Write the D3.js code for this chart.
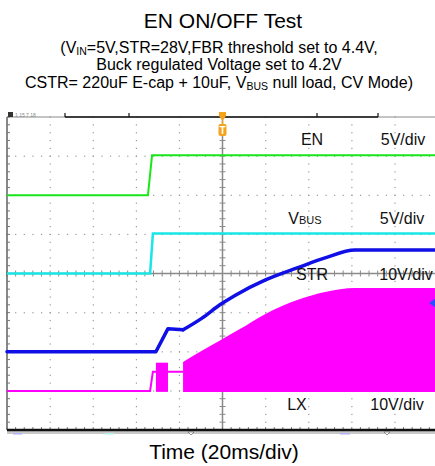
<!DOCTYPE html>
<html><head><meta charset="utf-8">
<script src="https://cdn.jsdelivr.net/npm/d3@7"></script>
<style>
html,body{margin:0;padding:0;background:#fff;}
svg{display:block;font-family:"Liberation Sans",Arial,sans-serif;}
</style></head>
<body><svg id="c" width="435" height="466"></svg>
<script>
// ---- data (time in ms, 20 ms/div, trigger at 0; voltages in V) ----
const titleText = "EN ON/OFF Test";
const xLabel = "Time (20ms/div)";
const channels = ["EN", "VBUS", "STR", "LX"];
const voltsPerDiv = [5, 5, 10, 10];
const offsetDiv = [2, 0, -2, -3];
const channelColors = ["#19e619", "#19e6e6", "#0f0fe6", "#ff00ff"];

const enTime = [-100, -34.6, -32.7, 100];
const enVolt = [0, 0, 5.1, 5.1];
const vbusTime = [-100, -33.6, -32.3, 100];
const vbusVolt = [0, 0, 5.1, 5.1];
const strStepTime = [-100, -30.9, -25.3, -18.3];
const strStepVolt = [0, 0, 5.9, 5.6];
const strRampTime = [-18.3, -9.5, -1.2, 5.8, 19.7, 35.0, 47.6, 61.5, 100];
const strRampVolt = [5.6, 8.6, 12.0, 14.4, 18.3, 21.5, 24.0, 26.0, 26.0];
const lxLineTime = [-100, -33.6, -32.3, -18.3];
const lxLineVolt = [0, 0, 4.9, 4.9];
const lxBlockTime = [-30.9, -25.3];
const lxBlockVolt = [7.2, 7.2];
const lxEnvTime = [-18.3, -10.4, -0.2, 8.1, 19.7, 35.0, 47.6, 61.5, 100];
const lxEnvVolt = [7.4, 10.0, 13.2, 15.8, 19.6, 23.3, 25.3, 26.3, 26.3];

// ---- layout ----
const svg = d3.select("#c");
const x = d3.scaleLinear().domain([-100, 100]).range([7, 438]);
const y = d3.scaleLinear().domain([-4, 4]).range([430, 117]);
const chY = (ci, v) => y(offsetDiv[ci] + v / voltsPerDiv[ci]);

// titles
svg.append("text").attr("x", 223).attr("y", 28).attr("text-anchor", "middle")
  .attr("font-size", 21).text(titleText);
const sub = [
  [["(V",0],["IN",1],["=5V,STR=28V,FBR threshold set to 4.4V,",2]],
  [["Buck regulated Voltage set to 4.2V",0]],
  [["CSTR= 220uF E-cap + 10uF, V",0],["BUS",1],[" null load, CV Mode)",2]]
];
const subY = [53, 70, 88];
sub.forEach((parts, i) => {
  const t = svg.append("text").attr("x", 219).attr("y", subY[i]).attr("text-anchor", "middle")
    .attr("font-size", 16);
  parts.forEach(([s, k]) => {
    const ts = t.append("tspan").text(s);
    if (k === 1) ts.attr("font-size", 10.5).attr("dy", 2);
    if (k === 2) ts.attr("dy", -2);
  });
});

// ---- graticule ----
const g = svg.append("g");
const majX = d3.range(-100, 101, 20);
const majY = d3.range(-4, 5, 1);
const minX = d3.range(-100, 100.01, 4);
const minY = d3.range(-4, 4.01, 0.2);
majY.forEach(dv => {
  if (dv === 0 || dv === 4 || dv === -4) return;
  minX.forEach(t => g.append("rect").attr("x", x(t) - 0.5).attr("y", y(dv) - 0.5)
    .attr("width", 1.2).attr("height", 1.2).attr("fill", "#9a9a9a"));
});
majX.forEach(t => {
  if (t === 0 || t === -100) return;
  minY.forEach(dv => g.append("rect").attr("x", x(t) - 0.5).attr("y", y(dv) - 0.5)
    .attr("width", 1.2).attr("height", 1.2).attr("fill", "#9a9a9a"));
});
g.append("line").attr("x1", x(-100)).attr("x2", x(100)).attr("y1", y(0)).attr("y2", y(0))
  .attr("stroke", "#8a8a8a").attr("stroke-width", 1.5);
g.append("line").attr("x1", x(0)).attr("x2", x(0)).attr("y1", y(4)).attr("y2", y(-4))
  .attr("stroke", "#8a8a8a").attr("stroke-width", 1.5);
minX.forEach(t => g.append("line").attr("x1", x(t)).attr("x2", x(t)).attr("y1", y(0) - 3).attr("y2", y(0) + 3)
  .attr("stroke", "#8a8a8a"));
minY.forEach(dv => g.append("line").attr("x1", x(0) - 3).attr("x2", x(0) + 3).attr("y1", y(dv)).attr("y2", y(dv))
  .attr("stroke", "#8a8a8a"));
g.append("line").attr("x1", x(-100)).attr("x2", x(100)).attr("y1", y(4)).attr("y2", y(4))
  .attr("stroke", "#8a8a8a");
g.append("line").attr("x1", x(-100)).attr("x2", x(-100)).attr("y1", y(4)).attr("y2", y(-4))
  .attr("stroke", "#606060").attr("stroke-width", 1.5);
minY.forEach(dv => g.append("line").attr("x1", x(-100)).attr("x2", x(-100) + 3).attr("y1", y(dv)).attr("y2", y(dv))
  .attr("stroke", "#777"));
minX.forEach(t => g.append("line").attr("x1", x(t)).attr("x2", x(t)).attr("y1", y(-4)).attr("y2", y(-4) - 3)
  .attr("stroke", "#777"));
g.append("rect").attr("x", x(-100)).attr("y", y(-4) + 1).attr("width", 440).attr("height", 3).attr("fill", "#c8c8c8");
g.append("line").attr("x1", x(-100)).attr("x2", 440).attr("y1", y(-4)).attr("y2", y(-4))
  .attr("stroke", "#111").attr("stroke-width", 2.5);
g.append("line").attr("x1", 65).attr("x2", 378).attr("y1", y(4)).attr("y2", y(4))
  .attr("stroke", "#111").attr("stroke-width", 1.5);
[65, 129, 317, 378].forEach(px => g.append("line").attr("x1", px).attr("x2", px)
  .attr("y1", y(4) - 4).attr("y2", y(4)).attr("stroke", "#111").attr("stroke-width", 1.2));
g.append("rect").attr("x", 8).attr("y", 112).attr("width", 5).attr("height", 5).attr("fill", "#333");
g.append("text").attr("x", 15).attr("y", 117).attr("font-size", 5).attr("fill", "#888").text("1 15 7 18");
[[13, 22, "#b0b0ff"], [105, 114, "#b0f0f0"], [340, 350, "#b0b0ff"]].forEach(([a, b, c]) =>
  g.append("rect").attr("x", a).attr("y", 433).attr("width", b - a).attr("height", 1.5).attr("fill", c));
[191, 387].forEach(px => g.append("path").attr("d", `M${px - 3},432L${px + 3},432L${px},435Z`)
  .attr("fill", "#fff").attr("stroke", "#666").attr("stroke-width", 0.7));

// ---- traces ----
const tr = svg.append("g");
const line = (ci, curve) => d3.line().x(d => x(d[0])).y(d => chY(ci, d[1])).curve(curve || d3.curveLinear);
const mag = channelColors[3];
tr.append("path").datum(d3.zip(lxLineTime, lxLineVolt)).attr("d", line(3))
  .attr("fill", "none").attr("stroke", mag).attr("stroke-width", 2);
tr.append("rect").attr("x", x(lxBlockTime[0])).attr("y", chY(3, lxBlockVolt[0]))
  .attr("width", x(lxBlockTime[1]) - x(lxBlockTime[0])).attr("height", chY(3, 0) - chY(3, lxBlockVolt[0]) + 1)
  .attr("fill", mag);
const area = d3.area().x(d => x(d[0])).y0(chY(3, 0) + 1).y1(d => chY(3, d[1])).curve(d3.curveMonotoneX);
tr.append("path").datum(d3.zip(lxEnvTime, lxEnvVolt)).attr("d", area).attr("fill", mag);
const strStyle = p => p.attr("fill", "none").attr("stroke", channelColors[2]).attr("stroke-width", 3.5)
  .attr("stroke-linejoin", "round").attr("stroke-linecap", "round");
tr.append("path").datum(d3.zip(strStepTime, strStepVolt)).attr("d", line(2)).call(strStyle);
tr.append("path").datum(d3.zip(strRampTime, strRampVolt)).attr("d", line(2, d3.curveMonotoneX)).call(strStyle);
tr.append("path").datum(d3.zip(vbusTime, vbusVolt)).attr("d", line(1))
  .attr("fill", "none").attr("stroke", channelColors[1]).attr("stroke-width", 2.5);
tr.append("path").datum(d3.zip(enTime, enVolt)).attr("d", line(0))
  .attr("fill", "none").attr("stroke", channelColors[0]).attr("stroke-width", 2);

// trigger marker
const tg = svg.append("g");
const tx = x(0);
tg.append("path").attr("d", `M${tx - 3.5},112L${tx + 3.5},112L${tx + 3.5},116L${tx},121L${tx - 3.5},116Z`).attr("fill", "#f5a31a");
tg.append("line").attr("x1", tx).attr("x2", tx).attr("y1", 121).attr("y2", 124).attr("stroke", "#f5a31a").attr("stroke-width", 1.5);
tg.append("rect").attr("x", tx - 4).attr("y", 124).attr("width", 8).attr("height", 12).attr("rx", 2).attr("fill", "#f5a31a");
tg.append("text").attr("x", tx).attr("y", 134).attr("text-anchor", "middle").attr("font-size", 10)
  .attr("font-weight", "bold").attr("fill", "#fff").text("T");
svg.append("path").attr("d", "M429,303L436,298L436,308Z").attr("fill", "#2a4cff");

// channel labels
const lab = svg.append("g").attr("font-size", 16).attr("fill", "#111");
lab.append("text").attr("x", 312).attr("y", 145).attr("text-anchor", "middle").text("EN");
lab.append("text").attr("x", 403).attr("y", 145).attr("text-anchor", "middle").text(voltsPerDiv[0] + "V/div");
const vb = lab.append("text").attr("x", 305).attr("y", 224).attr("text-anchor", "middle");
vb.append("tspan").text("V");
vb.append("tspan").attr("font-size", 11).text("BUS");
lab.append("text").attr("x", 402).attr("y", 224).attr("text-anchor", "middle").text(voltsPerDiv[1] + "V/div");
lab.append("text").attr("x", 312).attr("y", 280).attr("text-anchor", "middle").text("STR");
lab.append("text").attr("x", 406).attr("y", 280).attr("text-anchor", "middle").text(voltsPerDiv[2] + "V/div");
lab.append("text").attr("x", 297).attr("y", 410).attr("text-anchor", "middle").text("LX");
lab.append("text").attr("x", 397).attr("y", 410).attr("text-anchor", "middle").text(voltsPerDiv[3] + "V/div");

svg.append("text").attr("x", 224).attr("y", 459).attr("text-anchor", "middle").attr("font-size", 21).text(xLabel);
</script></body></html>
